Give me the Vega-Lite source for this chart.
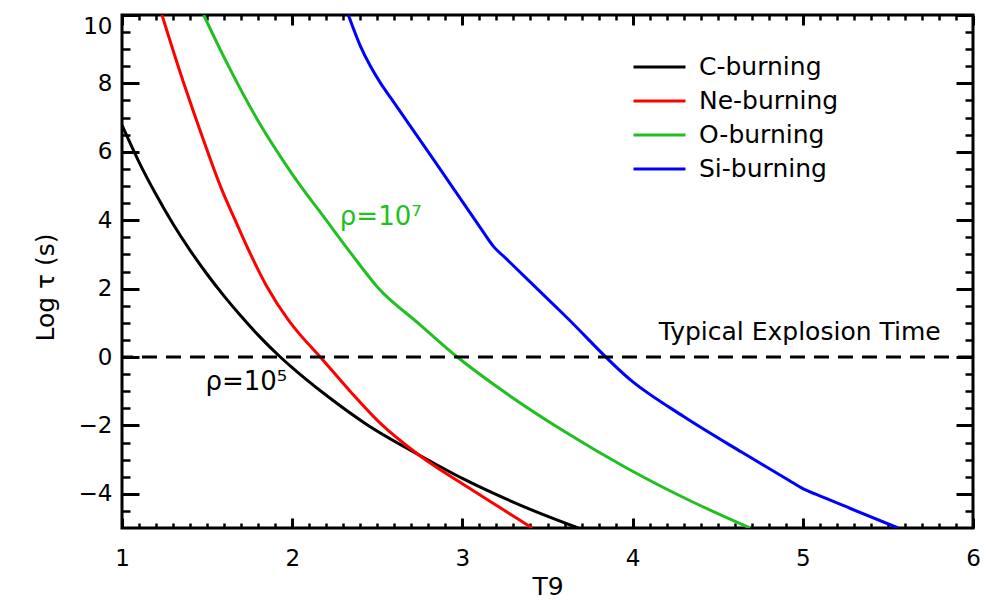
{
  "$schema": "https://vega.github.io/schema/vega-lite/v6.json",
  "width": 851,
  "height": 513,
  "autosize": {"type": "none"},
  "padding": {"left": 122, "top": 15, "right": 24, "bottom": 72},
  "background": "white",
  "config": {
    "view": {"stroke": "black", "strokeWidth": 3},
    "font": "DejaVu Sans",
    "axis": {
      "grid": false,
      "domain": false,
      "tickColor": "black",
      "tickWidth": 3,
      "labelColor": "black",
      "labelFont": "DejaVu Sans",
      "labelFontSize": 23,
      "titleFont": "DejaVu Sans",
      "titleFontSize": 25,
      "titleFontWeight": "normal",
      "titleColor": "black"
    },
    "text": {"font": "DejaVu Sans", "fontSize": 25}
  },
  "datasets": {
    "curves": [
      {"T": 1.0, "logtau": 6.78, "burning": "C-burning"},
      {"T": 1.1, "logtau": 5.7, "burning": "C-burning"},
      {"T": 1.2, "logtau": 4.75, "burning": "C-burning"},
      {"T": 1.3, "logtau": 3.89, "burning": "C-burning"},
      {"T": 1.4, "logtau": 3.12, "burning": "C-burning"},
      {"T": 1.5, "logtau": 2.42, "burning": "C-burning"},
      {"T": 1.6, "logtau": 1.78, "burning": "C-burning"},
      {"T": 1.7, "logtau": 1.19, "burning": "C-burning"},
      {"T": 1.8, "logtau": 0.64, "burning": "C-burning"},
      {"T": 1.93, "logtau": 0.0, "burning": "C-burning"},
      {"T": 2.0, "logtau": -0.31, "burning": "C-burning"},
      {"T": 2.2, "logtau": -1.12, "burning": "C-burning"},
      {"T": 2.44, "logtau": -1.98, "burning": "C-burning"},
      {"T": 2.74, "logtau": -2.85, "burning": "C-burning"},
      {"T": 3.0, "logtau": -3.55, "burning": "C-burning"},
      {"T": 3.22, "logtau": -4.07, "burning": "C-burning"},
      {"T": 3.45, "logtau": -4.56, "burning": "C-burning"},
      {"T": 3.68, "logtau": -5.0, "burning": "C-burning"},
      {"T": 1.235, "logtau": 10.0, "burning": "Ne-burning"},
      {"T": 1.34, "logtau": 8.35, "burning": "Ne-burning"},
      {"T": 1.45, "logtau": 6.75, "burning": "Ne-burning"},
      {"T": 1.59, "logtau": 4.85, "burning": "Ne-burning"},
      {"T": 1.665, "logtau": 4.0, "burning": "Ne-burning"},
      {"T": 1.753, "logtau": 3.03, "burning": "Ne-burning"},
      {"T": 1.851, "logtau": 2.06, "burning": "Ne-burning"},
      {"T": 1.978, "logtau": 1.08, "burning": "Ne-burning"},
      {"T": 2.03, "logtau": 0.75, "burning": "Ne-burning"},
      {"T": 2.165, "logtau": 0.0, "burning": "Ne-burning"},
      {"T": 2.34, "logtau": -1.0, "burning": "Ne-burning"},
      {"T": 2.52, "logtau": -1.95, "burning": "Ne-burning"},
      {"T": 2.74, "logtau": -2.85, "burning": "Ne-burning"},
      {"T": 3.03, "logtau": -3.8, "burning": "Ne-burning"},
      {"T": 3.22, "logtau": -4.4, "burning": "Ne-burning"},
      {"T": 3.41, "logtau": -5.0, "burning": "Ne-burning"},
      {"T": 1.48, "logtau": 10.0, "burning": "O-burning"},
      {"T": 1.6, "logtau": 8.76, "burning": "O-burning"},
      {"T": 1.8, "logtau": 6.9, "burning": "O-burning"},
      {"T": 2.0, "logtau": 5.35, "burning": "O-burning"},
      {"T": 2.2, "logtau": 4.0, "burning": "O-burning"},
      {"T": 2.35, "logtau": 3.0, "burning": "O-burning"},
      {"T": 2.5, "logtau": 2.05, "burning": "O-burning"},
      {"T": 2.75, "logtau": 0.95, "burning": "O-burning"},
      {"T": 2.97, "logtau": 0.0, "burning": "O-burning"},
      {"T": 3.22, "logtau": -0.93, "burning": "O-burning"},
      {"T": 3.6, "logtau": -2.18, "burning": "O-burning"},
      {"T": 3.97, "logtau": -3.26, "burning": "O-burning"},
      {"T": 4.32, "logtau": -4.16, "burning": "O-burning"},
      {"T": 4.69, "logtau": -5.0, "burning": "O-burning"},
      {"T": 2.33, "logtau": 10.0, "burning": "Si-burning"},
      {"T": 2.4, "logtau": 9.1, "burning": "Si-burning"},
      {"T": 2.46, "logtau": 8.5, "burning": "Si-burning"},
      {"T": 2.52, "logtau": 8.0, "burning": "Si-burning"},
      {"T": 2.58, "logtau": 7.57, "burning": "Si-burning"},
      {"T": 2.85, "logtau": 5.63, "burning": "Si-burning"},
      {"T": 3.1, "logtau": 3.82, "burning": "Si-burning"},
      {"T": 3.18, "logtau": 3.25, "burning": "Si-burning"},
      {"T": 3.26, "logtau": 2.86, "burning": "Si-burning"},
      {"T": 3.6, "logtau": 1.22, "burning": "Si-burning"},
      {"T": 4.0, "logtau": -0.72, "burning": "Si-burning"},
      {"T": 4.3, "logtau": -1.74, "burning": "Si-burning"},
      {"T": 4.64, "logtau": -2.78, "burning": "Si-burning"},
      {"T": 4.92, "logtau": -3.61, "burning": "Si-burning"},
      {"T": 5.0, "logtau": -3.85, "burning": "Si-burning"},
      {"T": 5.08, "logtau": -4.02, "burning": "Si-burning"},
      {"T": 5.28, "logtau": -4.43, "burning": "Si-burning"},
      {"T": 5.56, "logtau": -5.0, "burning": "Si-burning"}
    ]
  },
  "layer": [
    {
      "data": {"name": "curves"},
      "mark": {"type": "line", "strokeWidth": 3, "clip": true, "interpolate": "monotone"},
      "encoding": {
        "x": {
          "field": "T", "type": "quantitative",
          "scale": {"domain": [1, 6], "nice": false, "zero": false},
          "axis": {"orient": "bottom", "values": [1, 2, 3, 4, 5, 6], "tickSize": -10, "labelPadding": 29, "labelFlush": false, "title": "T9", "titlePadding": 4}
        },
        "y": {
          "field": "logtau", "type": "quantitative",
          "scale": {"domain": [-5, 10], "nice": false, "zero": false},
          "axis": {"orient": "left", "values": [-4, -2, 0, 2, 4, 6, 8, 10], "tickSize": -17, "labelPadding": 27, "labelFlush": true, "title": "Log τ (s)", "titlePadding": 20, "titleY": 272}
        },
        "color": {
          "field": "burning", "type": "nominal",
          "scale": {"domain": ["C-burning", "Ne-burning", "O-burning", "Si-burning"], "range": ["#000000", "#ff0000", "#20c020", "#0000ff"]},
          "legend": {
            "orient": "none", "legendX": 510, "legendY": 35, "title": null, "padding": 0,
            "symbolType": "stroke", "symbolSize": 2700, "symbolStrokeWidth": 3,
            "labelFontSize": 25, "labelFont": "DejaVu Sans", "labelColor": "black",
            "labelOffset": 12, "rowPadding": 0, "clipHeight": 34
          }
        }
      }
    },
    {
      "data": {"values": [{}]},
      "mark": {"type": "text", "align": "left", "baseline": "middle", "color": "#20c020", "fontSize": 26, "text": "ρ=10⁷"},
      "encoding": {
        "x": {"datum": 2.28, "type": "quantitative", "axis": {"orient": "bottom", "values": [1.1,1.2,1.3,1.4,1.5,1.6,1.7,1.8,1.9,2.1,2.2,2.3,2.4,2.5,2.6,2.7,2.8,2.9,3.1,3.2,3.3,3.4,3.5,3.6,3.7,3.8,3.9,4.1,4.2,4.3,4.4,4.5,4.6,4.7,4.8,4.9,5.1,5.2,5.3,5.4,5.5,5.6,5.7,5.8,5.9], "tickSize": -5, "tickWidth": 2.5, "labels": false, "title": null}},
        "y": {"datum": 4.1, "type": "quantitative", "axis": {"orient": "left", "values": [-4.5,-3.5,-3,-2.5,-1.5,-1,-0.5,0.5,1,1.5,2.5,3,3.5,4.5,5,5.5,6.5,7,7.5,8.5,9,9.5], "tickSize": -8, "tickWidth": 2.5, "labels": false, "title": null}}
      }
    },
    {
      "data": {"values": [{}]},
      "mark": {"type": "text", "align": "left", "baseline": "middle", "color": "black", "fontSize": 26, "text": "ρ=10⁵"},
      "encoding": {
        "x": {"datum": 1.49, "type": "quantitative", "axis": {"orient": "top", "values": [1, 2, 3, 4, 5, 6], "tickSize": -10, "labels": false, "title": null}},
        "y": {"datum": -0.73, "type": "quantitative", "axis": {"orient": "right", "values": [-4, -2, 0, 2, 4, 6, 8, 10], "tickSize": -17, "labels": false, "title": null}}
      }
    },
    {
      "data": {"values": [{}]},
      "mark": {"type": "text", "align": "right", "baseline": "middle", "color": "black", "text": "Typical Explosion Time"},
      "encoding": {
        "x": {"datum": 5.81, "type": "quantitative", "axis": {"orient": "top", "values": [1.1,1.2,1.3,1.4,1.5,1.6,1.7,1.8,1.9,2.1,2.2,2.3,2.4,2.5,2.6,2.7,2.8,2.9,3.1,3.2,3.3,3.4,3.5,3.6,3.7,3.8,3.9,4.1,4.2,4.3,4.4,4.5,4.6,4.7,4.8,4.9,5.1,5.2,5.3,5.4,5.5,5.6,5.7,5.8,5.9], "tickSize": -5, "tickWidth": 2.5, "labels": false, "title": null}},
        "y": {"datum": 0.73, "type": "quantitative", "axis": {"orient": "right", "values": [-4.5,-3.5,-3,-2.5,-1.5,-1,-0.5,0.5,1,1.5,2.5,3,3.5,4.5,5,5.5,6.5,7,7.5,8.5,9,9.5], "tickSize": -8, "tickWidth": 2.5, "labels": false, "title": null}}
      }
    },
    {
      "data": {"values": [{}]},
      "mark": {"type": "rule", "color": "black", "strokeWidth": 3, "strokeDash": [15, 9]},
      "encoding": {
        "y": {"datum": 0, "type": "quantitative", "axis": null}
      }
    }
  ],
  "resolve": {"axis": {"x": "independent", "y": "independent"}}
}
